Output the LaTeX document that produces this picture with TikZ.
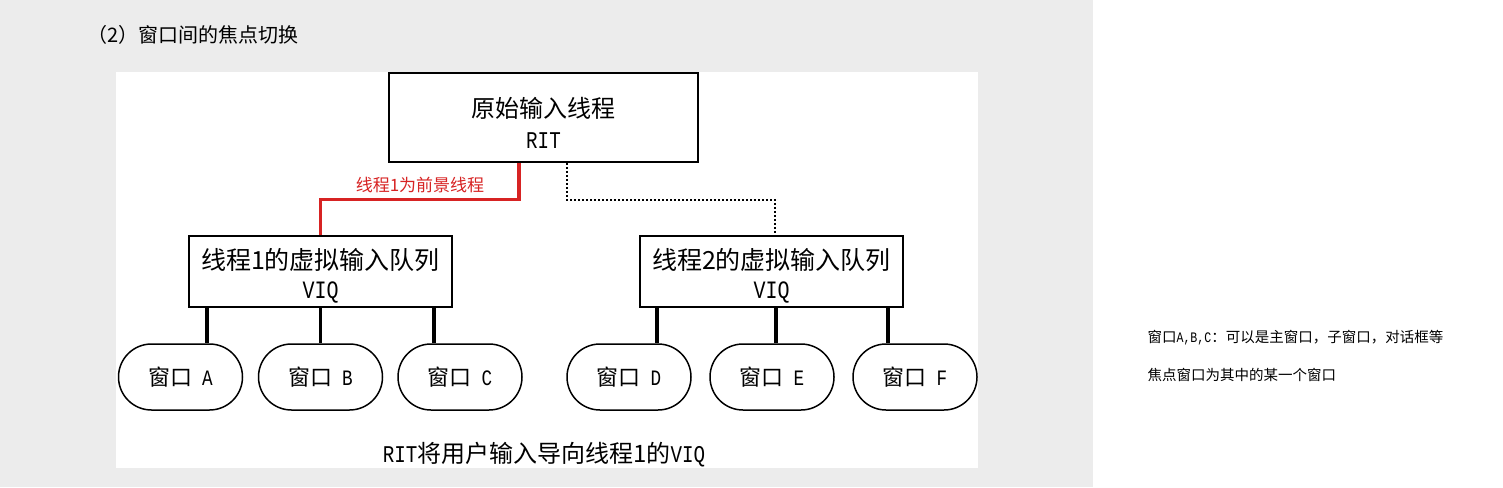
\documentclass[tikz,border=0pt]{standalone}
\usepackage{fontspec}
\setmainfont{Noto Sans CJK SC}
\setmonofont{Liberation Mono}[FakeStretch=0.8]
\usetikzlibrary{positioning, calc}
\definecolor{slidegray}{RGB}{236,236,236}
\definecolor{fgred}{RGB}{215,35,35}

\begin{document}
\begin{tikzpicture}[x=1pt, y=-1pt,
    box/.style={draw, line width=1.5pt, align=center, inner sep=0pt},
    winbox/.style={draw, line width=1.5pt, minimum width=124pt,
      minimum height=66pt, rounded corners=33pt, inner sep=0pt,
      font=\fontsize{22}{24}\selectfont},
    link/.style={line width=3.6pt},
    fgline/.style={line width=3.2pt, fgred},
    bgline/.style={line width=2pt, dotted}
  ]
  % slide background
  \useasboundingbox (0,0) rectangle (1503,487);
  \fill[slidegray] (0,0) rectangle (1093,487);
  \fill[white] (116,72) rectangle (978,468);

  \node[anchor=west, font=\fontsize{20}{22}\selectfont] (title) at (84,35)
    {（2）窗口间的焦点切换};

  % threads
  \node[box, minimum width=309pt, minimum height=89pt,
    font=\fontsize{24}{31}\selectfont] (rit) at (543.5,117.5)
    {\rule{0pt}{30pt}原始输入线程\\\texttt{RIT}};
  \node[box, minimum width=263pt, minimum height=71pt,
    font=\fontsize{25}{29}\selectfont] (viq1) at (320.5,271.5)
    {\rule{0pt}{29pt}线程1的虚拟输入队列\\\texttt{VIQ}};
  \node[box, minimum width=263pt, minimum height=71pt,
    font=\fontsize{25}{29}\selectfont] (viq2) at (771.5,271.5)
    {\rule{0pt}{29pt}线程2的虚拟输入队列\\\texttt{VIQ}};

  % windows
  \node[winbox] (wa) at (180.5,377) {窗口\ \ \texttt{A}};
  \node[winbox] (wb) at (320.5,377) {窗口\ \ \texttt{B}};
  \node[winbox] (wc) at (460,377) {窗口\ \ \texttt{C}};
  \node[winbox] (wd) at (629,377) {窗口\ \ \texttt{D}};
  \node[winbox] (we) at (772,377) {窗口\ \ \texttt{E}};
  \node[winbox] (wf) at (915,377) {窗口\ \ \texttt{F}};

  % connectors
  \draw[fgline] ([xshift=-24.5pt]rit.south) -- ++(0,37) -| (viq1.north);
  \draw[bgline] ([xshift=23.5pt]rit.south) -- ++(0,37) -| ([xshift=3.5pt]viq2.north);
  \foreach \q/\dx/\w in {viq1/-113.5/wa, viq1/0/wb, viq1/113.5/wc,
                         viq2/-114.5/wd, viq2/4.5/we, viq2/116.5/wf}
    \draw[link] ([xshift=\dx pt]\q.south) coordinate (t) -- (t |- \w.north);

  \node[font=\fontsize{17}{19}\selectfont, text=fgred] (fglabel) at (420,185)
    {线程1为前景线程};

  \node[font=\fontsize{24}{26}\selectfont] (caption) at (544,455)
    {\texttt{RIT}将用户输入导向线程1的\texttt{VIQ}};

  % notes
  \node[anchor=west, font=\fontsize{14.5}{16}\selectfont] (note1) at (1144,338)
    {窗口\texttt{A,B,C}：可以是主窗口，子窗口，对话框等};
  \node[anchor=west, font=\fontsize{14.5}{16}\selectfont] (note2) at (1144,375)
    {焦点窗口为其中的某一个窗口};
\end{tikzpicture}
\end{document}
